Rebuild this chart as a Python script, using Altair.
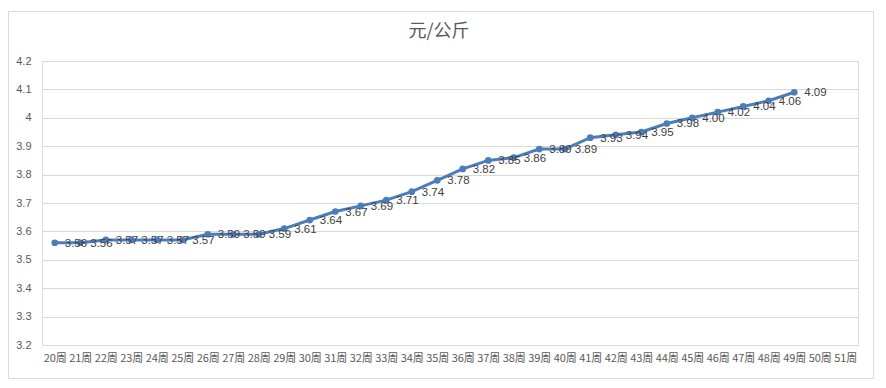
import altair as alt
import pandas as pd

weeks = [f"{w}周" for w in range(20, 52)]
value_weeks = weeks[:30]
prices = [3.56, 3.56, 3.57, 3.57, 3.57, 3.57, 3.59, 3.59, 3.59, 3.61,
          3.64, 3.67, 3.69, 3.71, 3.74, 3.78, 3.82, 3.85, 3.86, 3.89,
          3.89, 3.93, 3.94, 3.95, 3.98, 4.00, 4.02, 4.04, 4.06, 4.09]
y_ticks = [3.2, 3.3, 3.4, 3.5, 3.6, 3.7, 3.8, 3.9, 4.0, 4.1, 4.2]
title_text = "元/公斤"

df = pd.DataFrame({
    "week": value_weeks,
    "price": prices,
    "label": [f"{p:.2f}" for p in prices],
})

color = "#4a7ebb"
x_enc = alt.X("week:N", sort=weeks,
              scale=alt.Scale(type="point", domain=weeks, padding=0.5),
              axis=alt.Axis(title=None, labelAngle=0, ticks=False, domain=False,
                            grid=False, labelFont="Liberation Sans Narrow, Noto Sans CJK SC",
                            labelFontSize=11, labelColor="#595959", labelPadding=7))
y_enc = alt.Y("price:Q",
              scale=alt.Scale(domain=[3.2, 4.2], nice=False, zero=False),
              axis=alt.Axis(title=None, values=y_ticks, ticks=False, domain=False,
                            grid=True, gridColor="#d9d9d9", gridWidth=1,
                            labelFont="Liberation Sans", labelFontSize=11,
                            labelColor="#595959", labelPadding=11,
                            labelExpr="datum.value == 4 ? '4' : format(datum.value, '.1f')"))

base = alt.Chart(df)
line = base.mark_line(color=color, strokeWidth=3).encode(x=x_enc, y=y_enc)
points = base.mark_point(filled=True, color=color, size=45, opacity=1).encode(x=x_enc, y=y_enc)
labels = base.mark_text(align="left", baseline="middle", dx=10, dy=1,
                        font="Liberation Sans", fontSize=11.5, color="#404040").encode(
    x=x_enc, y=y_enc, text="label:N")

one = alt.Chart(pd.DataFrame({"t": [title_text]}))
frame = one.mark_rect(fill=None, stroke="#d9d9d9", strokeWidth=1).encode(
    x=alt.value(-33.5), x2=alt.value(831.5), y=alt.value(-49.5), y2=alt.value(317.5))
title = one.mark_text(font="Noto Sans CJK SC", fontSize=18, color="#595959",
                      align="center", baseline="middle").encode(
    x=alt.value(397), y=alt.value(-29), text="t:N")

chart = alt.layer(frame, title, line, points, labels).properties(
    width=816, height=284,
    autosize=alt.AutoSizeParams(type="none"),
    padding={"left": 34, "top": 53, "right": 20, "bottom": 35},
).configure_view(stroke=None).configure(background="white")

chart.save("out.html", embed_options={"renderer": "svg", "actions": False})
